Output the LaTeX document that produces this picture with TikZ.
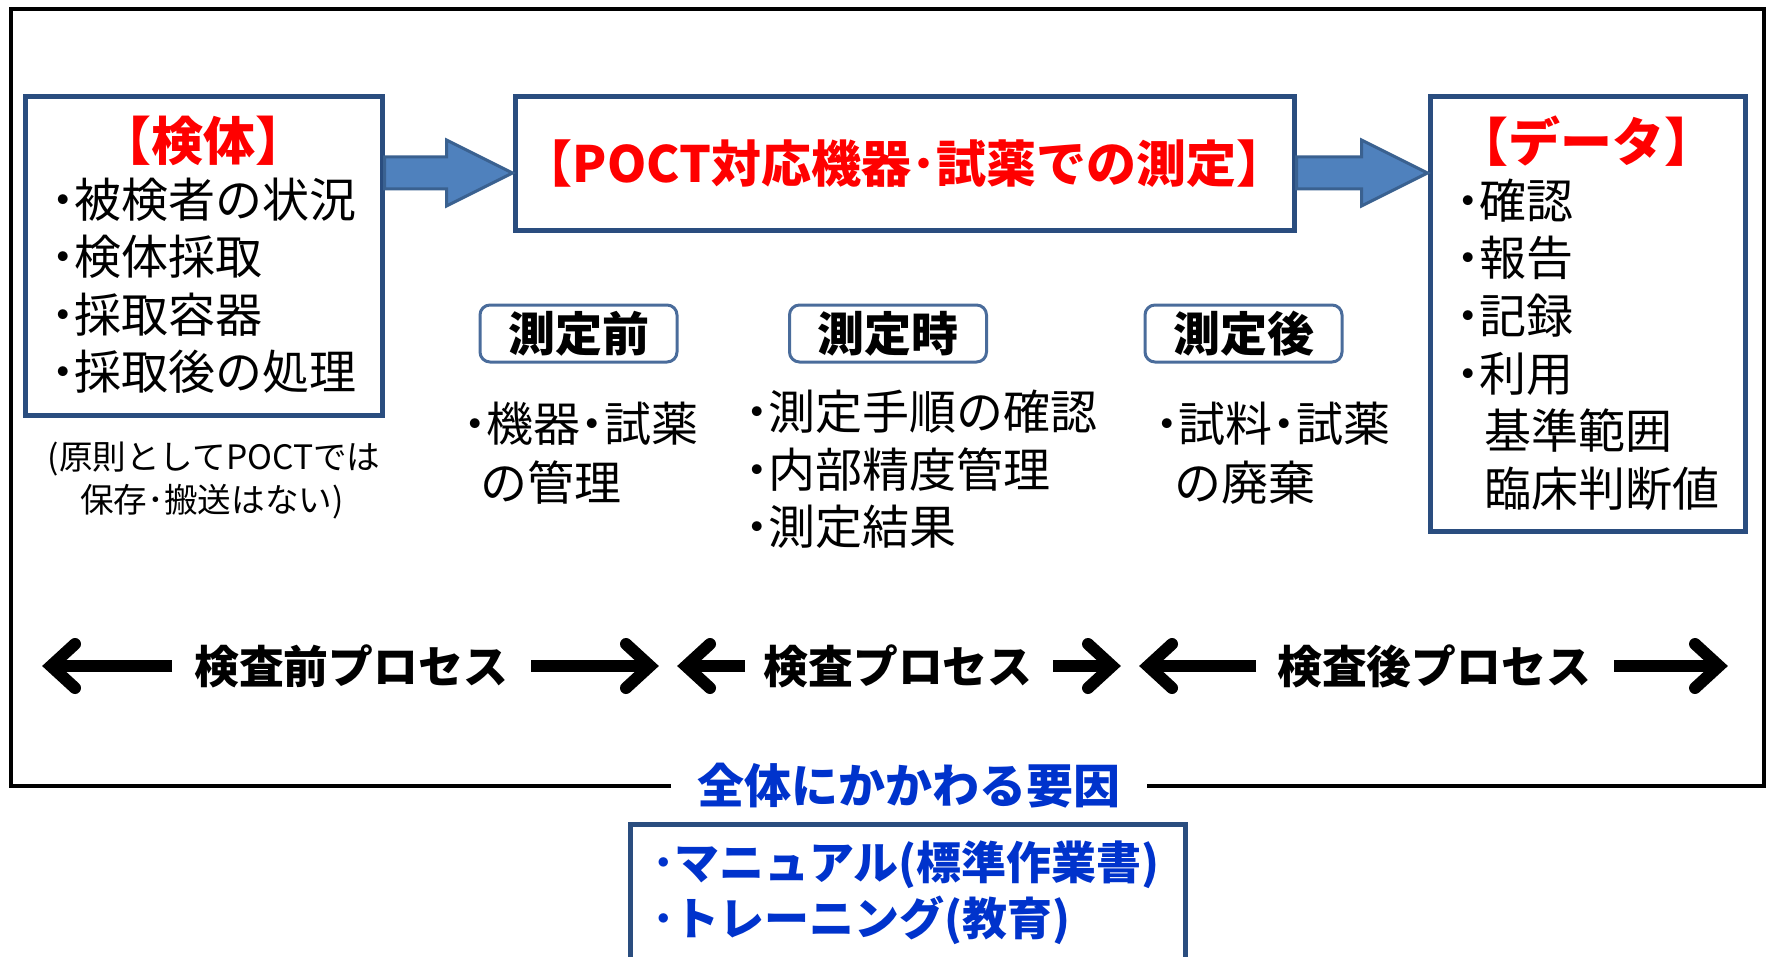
\documentclass[tikz,border=0pt]{standalone}
\usepackage{fontspec}
\setmainfont{Noto Sans CJK JP}
\usetikzlibrary{calc}
\definecolor{boxblue}{HTML}{2A4D7F}
\definecolor{tagblue}{HTML}{4A6C9B}
\definecolor{arrowfill}{HTML}{4F81BD}
\definecolor{arrowdraw}{HTML}{3A6190}
\definecolor{titlered}{HTML}{FF0000}
\definecolor{factorblue}{HTML}{0033CC}
\newcommand\mybul{{\bfseries ･}}
\begin{document}
\begin{tikzpicture}[x=0.5pt,y=-0.5pt,
 bluebox/.style={draw=boxblue, line width=2.5pt, fill=white, inner sep=0pt},
 tagbox/.style={draw=tagblue, line width=1.5pt, rounded corners=5pt, inner sep=0pt, minimum width=98.5pt, minimum height=28.5pt, font=\fontsize{23.5}{28}\selectfont\bfseries},
 item/.style={inner sep=0pt, anchor=west, font=\fontsize{23.5}{28}\selectfont},
 note/.style={inner sep=0pt, font=\fontsize{16.8}{20}\selectfont},
 heading/.style={inner sep=0pt, text=titlered, font=\fontsize{26}{30}\selectfont\bfseries},
 blockarrow/.style={fill=arrowfill, draw=arrowdraw, line width=1.5pt, line join=miter},
 procshaft/.style={line width=6pt},
 chev/.style={line width=6pt, line cap=round, line join=miter},
 proc/.style={inner sep=0pt, font=\fontsize{22.4}{26}\selectfont\bfseries},
 factoritem/.style={inner sep=0pt, anchor=west, text=factorblue, font=\fontsize{22.5}{26}\selectfont\bfseries},
 frame/.style={line width=2pt},
]
\useasboundingbox (0,0) rectangle (1770,957);

% outer frame with label
\node[inner xsep=13pt, inner ysep=0pt, text=factorblue, font=\fontsize{23.5}{28}\selectfont\bfseries] (factor) at (909,786) {全体にかかわる要因};
\draw[frame] (factor.west) -- (11,786) -- (11,9) -- (1764,9) -- (1764,786) -- (factor.east);

% main boxes
\node[bluebox, minimum width=178.5pt, minimum height=159pt] (spec) at (203.5,256) {};
\node[bluebox, minimum width=389.5pt, minimum height=67pt, text=titlered, font=\fontsize{25}{30}\selectfont\bfseries] (meas) at (904.5,164) {【POCT対応機器･試薬での測定】};
\node[bluebox, minimum width=157.5pt, minimum height=217pt] (data) at (1587.5,314) {};

% block arrows
\coordinate (a1tip) at ($(meas.west)+(0,9)$);
\coordinate (a1tail) at (spec.east |- a1tip);
\draw[blockarrow] ($(a1tail)+(0,-16)$) -- ($(a1tip)+(-66,-16)$) -- ($(a1tip)+(-66,-33)$) -- (a1tip) -- ($(a1tip)+(-66,33)$) -- ($(a1tip)+(-66,16)$) -- ($(a1tail)+(0,16)$) -- cycle;
\coordinate (a2tip) at (data.west |- a1tip);
\coordinate (a2tail) at (meas.east |- a1tip);
\draw[blockarrow] ($(a2tail)+(0,-16)$) -- ($(a2tip)+(-66,-16)$) -- ($(a2tip)+(-66,-33)$) -- (a2tip) -- ($(a2tip)+(-66,33)$) -- ($(a2tip)+(-66,16)$) -- ($(a2tail)+(0,16)$) -- cycle;

% specimen box texts
\node[heading] (spechead) at (203,141) {【検体】};
\node[item] (s1) at (51,200) {\mybul 被検者の状況};
\node[item] (s2) at (51,257) {\mybul 検体採取};
\node[item] (s3) at (51,315) {\mybul 採取容器};
\node[item] (s4) at (51,372) {\mybul 採取後の処理};
\node[note] (n1) at (214,459) {(原則としてPOCTでは};
\node[note] (n2) at (212,502) {保存･搬送はない)};

% data box texts
\node[heading] (datahead) at (1586,141) {【データ】};
\node[item] (d1) at (1456,201) {\mybul 確認};
\node[item] (d2) at (1456,258) {\mybul 報告};
\node[item] (d3) at (1456,316) {\mybul 記録};
\node[item] (d4) at (1456,374) {\mybul 利用};
\node[item] (d5) at (1484,431) {基準範囲};
\node[item] (d6) at (1484,489) {臨床判断値};

% phase tags
\node[tagbox] (before) at (578.5,333.5) {測定前};
\node[tagbox] (during) at (888,333.5) {測定時};
\node[tagbox] (after) at (1243.5,333.5) {測定後};

\node[item] (b1) at (463,424) {\mybul 機器\mybul 試薬};
\node[item] (b2) at (480,483) {の管理};
\node[item] (m1) at (745,412) {\mybul 測定手順の確認};
\node[item] (m2) at (745,470) {\mybul 内部精度管理};
\node[item] (m3) at (745,527) {\mybul 測定結果};
\node[item] (f1) at (1155,424) {\mybul 試料\mybul 試薬};
\node[item] (f2) at (1174,483) {の廃棄};

% process row
\node[proc] (pre) at (351,666) {検査前プロセス};
\node[proc] (mid) at (898,666) {検査プロセス};
\node[proc] (post) at (1434,666) {検査後プロセス};

\coordinate (p1tip) at (51,666);  \coordinate (p1end) at (172,666);
\coordinate (p2tip) at (650,666); \coordinate (p2end) at (531,666);
\coordinate (p3tip) at (686,666); \coordinate (p3end) at (745,666);
\coordinate (p4tip) at (1112,666); \coordinate (p4end) at (1053,666);
\coordinate (p5tip) at (1148,666); \coordinate (p5end) at (1256,666);
\coordinate (p6tip) at (1719,666); \coordinate (p6end) at (1614,666);

\draw[procshaft] (p1end) -- (p1tip);
\draw[chev] ($(p1tip)+(24,-22)$) -- (p1tip) -- ($(p1tip)+(24,22)$);
\draw[procshaft] (p2end) -- (p2tip);
\draw[chev] ($(p2tip)+(-24,-22)$) -- (p2tip) -- ($(p2tip)+(-24,22)$);
\draw[procshaft] (p3end) -- (p3tip);
\draw[chev] ($(p3tip)+(24,-22)$) -- (p3tip) -- ($(p3tip)+(24,22)$);
\draw[procshaft] (p4end) -- (p4tip);
\draw[chev] ($(p4tip)+(-24,-22)$) -- (p4tip) -- ($(p4tip)+(-24,22)$);
\draw[procshaft] (p5end) -- (p5tip);
\draw[chev] ($(p5tip)+(24,-22)$) -- (p5tip) -- ($(p5tip)+(24,22)$);
\draw[procshaft] (p6end) -- (p6tip);
\draw[chev] ($(p6tip)+(-24,-22)$) -- (p6tip) -- ($(p6tip)+(-24,22)$);

% bottom box
\node[bluebox, minimum width=277.5pt, minimum height=83pt] (tools) at (907.5,907) {};
\node[factoritem] (t1) at (652,865) {･マニュアル(標準作業書)};
\node[factoritem] (t2) at (652,920) {･トレーニング(教育)};
\end{tikzpicture}
\end{document}
